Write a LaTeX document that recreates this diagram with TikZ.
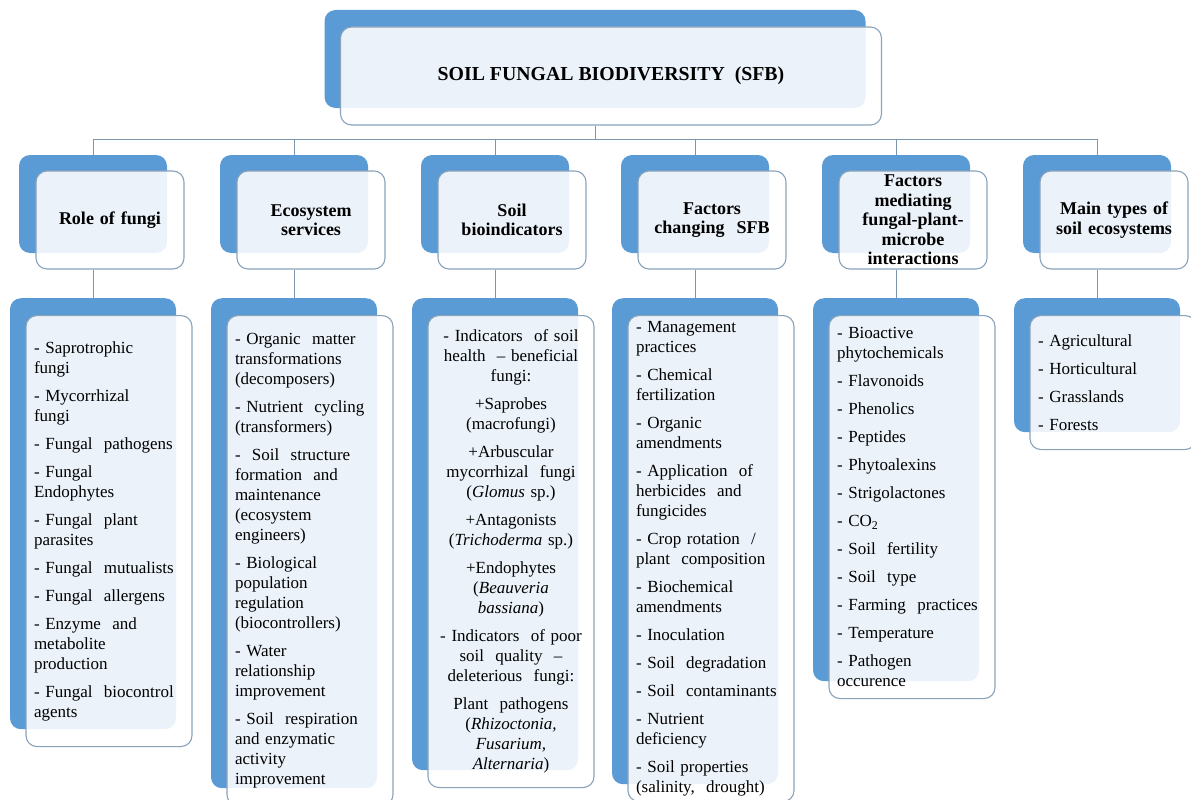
\documentclass[tikz,border=0pt]{standalone}
\usepackage{fontspec}
\setmainfont{Liberation Serif}
\definecolor{backblue}{HTML}{5B9BD5}
\definecolor{edgegrey}{HTML}{8AA3BB}
\definecolor{linegrey}{HTML}{7C95AD}
\tikzset{
  backbox/.style={fill=backblue, rounded corners=11pt, inner sep=0pt},
  frontbox/.style={draw=edgegrey, line width=1.1pt, fill=white, fill opacity=0.88,
    text opacity=1, rounded corners=11pt},
  headbox/.style={frontbox, minimum width=148pt, minimum height=98pt, text width=140pt,
    inner xsep=4pt, align=center, font=\bfseries\fontsize{18}{19.5}\selectfont},
  listbox/.style={frontbox, anchor=north, minimum width=166pt, text width=150pt,
    inner xsep=8pt, align=left, font=\fontsize{17}{20}\selectfont},
  link/.style={draw=linegrey, line width=0.9pt}
}
\begin{document}
\begin{tikzpicture}[x=1pt, y=-1pt]
  \useasboundingbox (0,0) rectangle (1191,800);
  \node[backbox, minimum width=541pt, minimum height=98pt] (rootb) at (595,59) {};
  \node[frontbox, minimum width=541pt, minimum height=98pt,
    font=\bfseries\fontsize{19.8}{22}\selectfont] (root) at (611,76) {SOIL FUNGAL BIODIVERSITY\ \ (SFB)};
  \node[backbox, minimum width=148pt, minimum height=98pt] (c1b) at (93,204) {};
  \node[backbox, minimum width=148pt, minimum height=98pt] (c2b) at (294,204) {};
  \node[backbox, minimum width=148pt, minimum height=98pt] (c3b) at (495,204) {};
  \node[backbox, minimum width=148pt, minimum height=98pt] (c4b) at (695,204) {};
  \node[backbox, minimum width=148pt, minimum height=98pt] (c5b) at (896,204) {};
  \node[backbox, minimum width=148pt, minimum height=98pt] (c6b) at (1097,204) {};
  \node[headbox] (c1) at (110,220) {Role of fungi};
  \node[headbox] (c2) at (311,220) {Ecosystem\\services};
  \node[headbox] (c3) at (512,220) {Soil\\bioindicators};
  \node[headbox] (c4) at (712,220) {Factors\\changing\ \ SFB};
  \node[headbox] (c5) at (913,220) {Factors\\mediating\\fungal-plant-\\microbe\\interactions};
  \node[headbox] (c6) at (1114,220) {Main types of\\soil ecosystems};
  \node[backbox, anchor=north, minimum width=166pt, minimum height=431pt] (d1b) at (93,298) {};
  \node[backbox, anchor=north, minimum width=166pt, minimum height=490pt] (d2b) at (294,298) {};
  \node[backbox, anchor=north, minimum width=166pt, minimum height=472pt] (d3b) at (495,298) {};
  \node[backbox, anchor=north, minimum width=166pt, minimum height=486pt] (d4b) at (695,298) {};
  \node[backbox, anchor=north, minimum width=166pt, minimum height=383pt] (d5b) at (896,298) {};
  \node[backbox, anchor=north, minimum width=166pt, minimum height=134pt] (d6b) at (1097,298) {};
  \node[listbox, minimum height=431pt] (d1) at (109,315) {- Saprotrophic\\fungi\\[8pt]
    - Mycorrhizal\\fungi\\[8pt]
    - Fungal\ \ pathogens\\[8pt]
    - Fungal\\Endophytes\\[8pt]
    - Fungal\ \ plant\\parasites\\[8pt]
    - Fungal\ \ mutualists\\[8pt]
    - Fungal\ \ allergens\\[8pt]
    - Enzyme\ \ and\\metabolite\\production\\[8pt]
    - Fungal\ \ biocontrol\\agents};
  \node[listbox, minimum height=490pt] (d2) at (310,315) {- Organic\ \ matter\\transformations\\(decomposers)\\[8pt]
    - Nutrient\ \ cycling\\(transformers)\\[8pt]
    -\ \ Soil\ \ structure\\formation\ \ and\\maintenance\\(ecosystem\\engineers)\\[8pt]
    - Biological\\population\\regulation\\(biocontrollers)\\[8pt]
    - Water\\relationship\\improvement\\[8pt]
    - Soil\ \ respiration\\and enzymatic\\activity\\improvement};
  \node[listbox, minimum height=472pt, align=center] (d3) at (511,315) {- Indicators\ \ of soil\\health\ \ -- beneficial\\fungi:\\[8pt]
    +Saprobes\\(macrofungi)\\[8pt]
    +Arbuscular\\mycorrhizal\ \ fungi\\(\textit{Glomus} sp.)\\[8pt]
    +Antagonists\\(\textit{Trichoderma} sp.)\\[8pt]
    +Endophytes\\(\textit{Beauveria}\\\textit{bassiana})\\[8pt]
    - Indicators\ \ of poor\\soil\ \ quality\ \ --\\deleterious\ \ fungi:\\[8pt]
    Plant\ \ pathogens\\(\textit{Rhizoctonia,}\\\textit{Fusarium,}\\\textit{Alternaria})};
  \node[listbox, minimum height=486pt] (d4) at (711,315) {- Management\\practices\\[8pt]
    - Chemical\\fertilization\\[8pt]
    - Organic\\amendments\\[8pt]
    - Application\ \ of\\herbicides\ \ and\\fungicides\\[8pt]
    - Crop rotation\ \ /\\plant\ \ composition\\[8pt]
    - Biochemical\\amendments\\[8pt]
    - Inoculation\\[8pt]
    - Soil\ \ degradation\\[8pt]
    - Soil\ \ contaminants\\[8pt]
    - Nutrient\\deficiency\\[8pt]
    - Soil properties\\(salinity,\ \ drought)};
  \node[listbox, minimum height=383pt] (d5) at (912,315) {- Bioactive\\phytochemicals\\[8pt]
    - Flavonoids\\[8pt]
    - Phenolics\\[8pt]
    - Peptides\\[8pt]
    - Phytoalexins\\[8pt]
    - Strigolactones\\[8pt]
    - CO\textsubscript{2}\\[8pt]
    - Soil\ \ fertility\\[8pt]
    - Soil\ \ type\\[8pt]
    - Farming\ \ practices\\[8pt]
    - Temperature\\[8pt]
    - Pathogen\\occurence};
  \node[listbox, minimum height=134pt] (d6) at (1113,315) {- Agricultural\\[8pt]
    - Horticultural\\[8pt]
    - Grasslands\\[8pt]
    - Forests};
  \coordinate (hub) at (595,139);
  \begin{scope}[link]
    \draw (root.south -| hub) to (hub);
    \draw (hub) -| (c1b.north);
    \draw (hub) -| (c2b.north);
    \draw (hub) -| (c3b.north);
    \draw (hub) -| (c4b.north);
    \draw (hub) -| (c5b.north);
    \draw (hub) -| (c6b.north);
    \draw (c1b |- c1.south) to (d1b.north);
    \draw (c2b |- c2.south) to (d2b.north);
    \draw (c3b |- c3.south) to (d3b.north);
    \draw (c4b |- c4.south) to (d4b.north);
    \draw (c5b |- c5.south) to (d5b.north);
    \draw (c6b |- c6.south) to (d6b.north);
  \end{scope}
\end{tikzpicture}
\end{document}
